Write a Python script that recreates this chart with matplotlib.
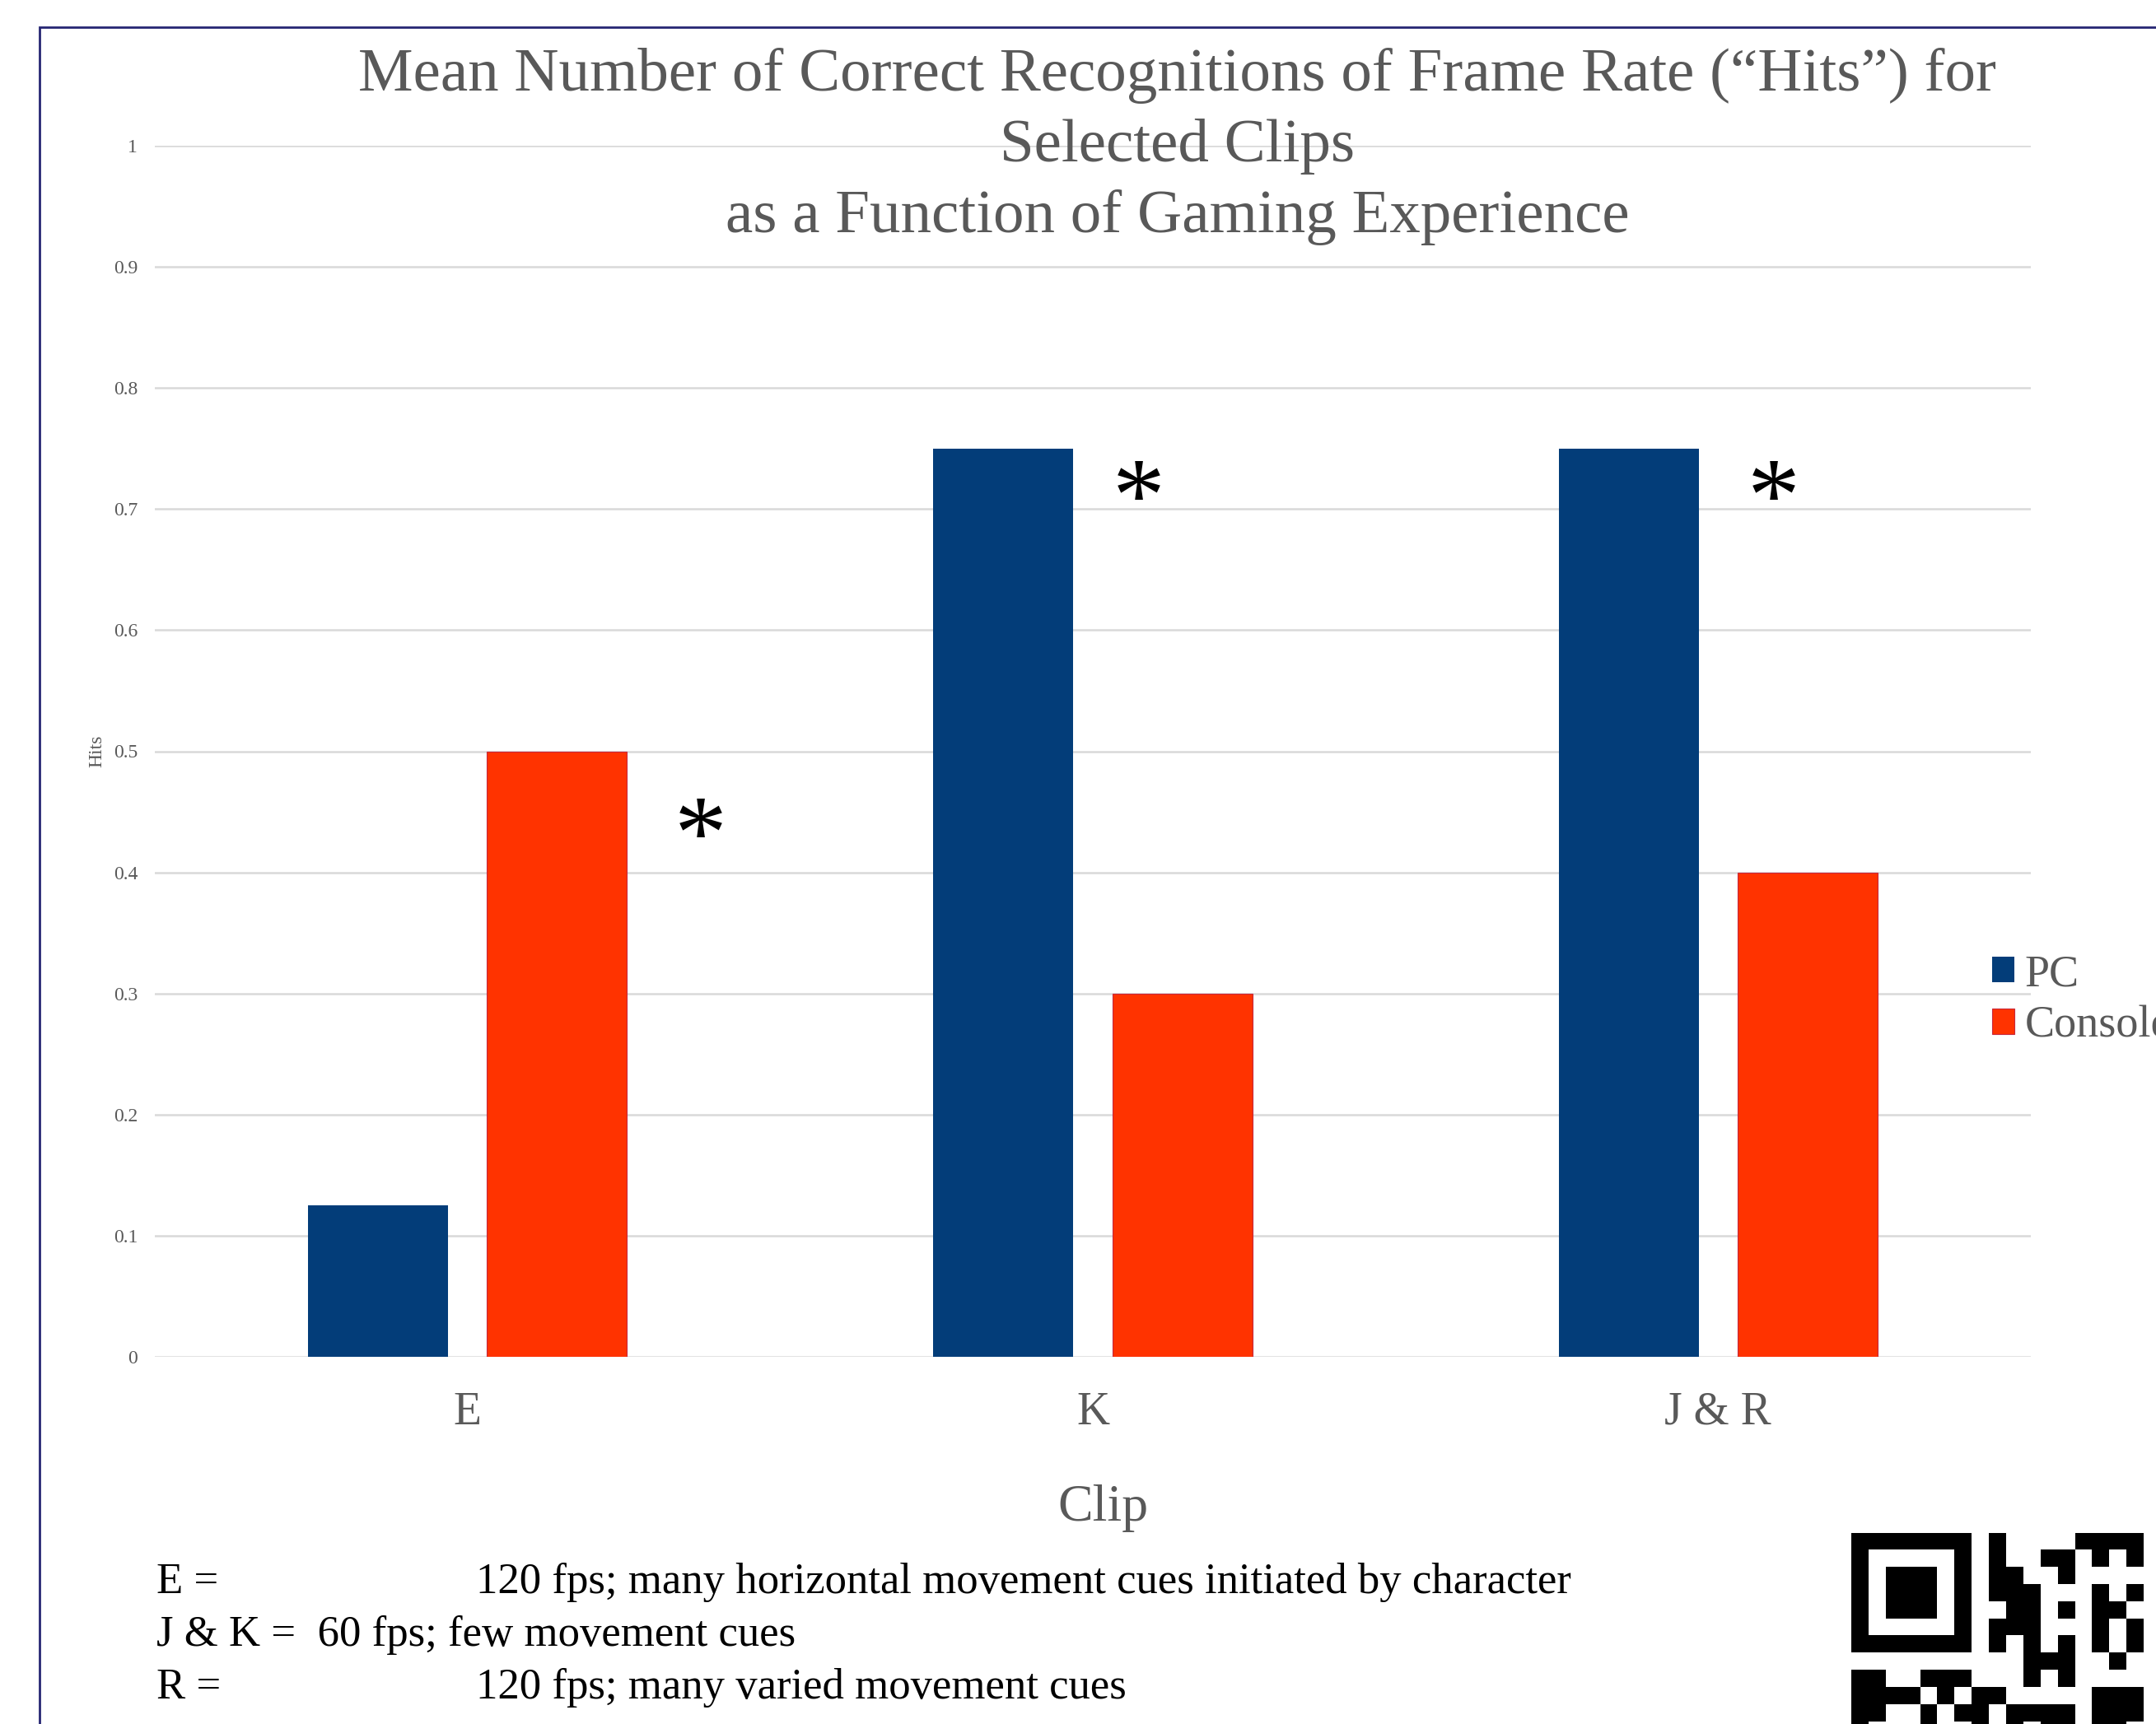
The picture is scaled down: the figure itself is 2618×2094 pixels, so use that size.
import matplotlib
matplotlib.use("Agg")
import matplotlib.pyplot as plt
from matplotlib.patches import Rectangle
import matplotlib.transforms as mtransforms
import numpy as np

# ---- data ----
categories = ["E", "K", "J & R"]
series_names = ["PC", "Console"]
pc_hits = [0.125, 0.75, 0.75]
console_hits = [0.5, 0.3, 0.4]
yticks = [0, 0.1, 0.2, 0.3, 0.4, 0.5, 0.6, 0.7, 0.8, 0.9, 1]
ytick_labels = ["0", "0.1", "0.2", "0.3", "0.4", "0.5", "0.6", "0.7", "0.8", "0.9", "1"]
# significance markers: (x position in category units, y value)
star_x = [0.373, 1.074, 2.089]
star_y = [0.443, 0.722, 0.722]
title_lines = ["Mean Number of Correct Recognitions of Frame Rate (\u201cHits\u201d) for",
               "Selected Clips",
               "as a Function of Gaming Experience"]
note_keys = ["E =", "J & K =  60 fps; few movement cues", "R ="]
note_vals = ["120 fps; many horizontal movement cues initiated by character", "",
             "120 fps; many varied movement cues"]
qr_modules = [
    [1,1,1,1,1,1,1,0,1,0,0,0,0,1,1,1,1,0],
    [1,0,0,0,0,0,1,0,1,0,0,1,1,0,1,0,1,0],
    [1,0,1,1,1,0,1,0,1,1,0,0,1,0,0,0,0,0],
    [1,0,1,1,1,0,1,0,1,1,1,0,0,0,1,0,1,0],
    [1,0,1,1,1,0,1,0,0,1,1,0,1,0,1,1,0,0],
    [1,0,0,0,0,0,1,0,1,1,1,0,0,0,1,0,1,0],
    [1,1,1,1,1,1,1,0,1,0,1,0,1,0,1,0,1,0],
    [0,0,0,0,0,0,0,0,0,0,1,1,1,0,0,1,0,0],
    [1,1,0,0,1,1,1,0,0,0,1,0,1,0,0,0,0,0],
    [1,1,1,1,0,1,0,1,1,0,0,0,0,0,1,1,1,0],
    [1,1,0,0,1,0,1,1,0,1,1,1,1,0,1,1,1,0],
    [1,0,0,0,1,0,0,1,0,1,0,1,1,0,1,1,0,0],
]

PC_COLOR = "#033D79"
CON_COLOR = "#FF3300"
CON_EDGE = "#C8283C"
GRAY_TXT = "#595959"

plt.rcParams["font.family"] = ["Liberation Serif", "DejaVu Serif"]

W, H = 2618, 2094
fig = plt.figure(figsize=(W / 100, H / 100), dpi=100)

def fx(px):
    return px / W

def fy(py):
    return 1 - py / H

# border
fig.patches.append(Rectangle((fx(48), fy(2200)), fx(2700), fy(33) - fy(2200),
                             transform=fig.transFigure, fill=False,
                             edgecolor="#262673", linewidth=2.0, zorder=0))

ax_l, ax_r, ax_t, ax_b = 188, 2466, 177, 1648
ax = fig.add_axes([fx(ax_l), fy(ax_b), fx(ax_r - ax_l), fy(ax_t) - fy(ax_b)])

x = np.arange(len(categories))
off = 0.143
bw = 0.224
b1 = ax.bar(x - off, pc_hits, bw, color=PC_COLOR, label=series_names[0], zorder=3)
b2 = ax.bar(x + off, console_hits, bw, color=CON_COLOR, edgecolor=CON_EDGE,
            linewidth=0.8, label=series_names[1], zorder=3)

ax.set_xlim(-0.5, len(categories) - 0.5)
ax.set_ylim(0, 1)
ax.set_yticks(yticks)
ax.set_yticklabels(ytick_labels, fontsize=17, color=GRAY_TXT)
ax.set_xticks(x)
ax.set_xticklabels(categories, fontsize=40, color=GRAY_TXT)
for t in ax.get_xticklabels():
    t.set_va("baseline")
ax.tick_params(axis="x", length=0, pad=59)
ax.tick_params(axis="y", length=0, pad=15)
ax.grid(axis="y", color="#D9D9D9", linewidth=1.8)
ax.set_axisbelow(True)
for s in ax.spines.values():
    s.set_visible(False)
ax.set_ylabel("Hits", fontsize=17, color=GRAY_TXT)
ax.yaxis.set_label_coords((128 - ax_l) / (ax_r - ax_l), 0.5)

star_tr = mtransforms.offset_copy(ax.transData, fig=fig, x=0, y=-10, units="points")
for sx, sy in zip(star_x, star_y):
    ax.text(sx, sy, "*", fontsize=92, color="black", ha="center", va="center_baseline",
            transform=star_tr, zorder=4)

# title
for i, line in enumerate(title_lines):
    fig.text(fx(1430), fy(110 + 86 * i), line, fontsize=54, color=GRAY_TXT,
             ha="center", va="baseline")

# x axis title
fig.text(fx(1339), fy(1847), "Clip", fontsize=46, color=GRAY_TXT, ha="center", va="baseline")

# legend
fig.legend(handles=[b1, b2], labels=series_names, loc="center left",
           bbox_to_anchor=(fx(2419), fy(1215)), frameon=False, fontsize=39,
           labelcolor=GRAY_TXT, handlelength=0.5, handleheight=0.5,
           handletextpad=0.23, labelspacing=0.22, borderpad=0, borderaxespad=0)

# notes
for i, (k, v) in enumerate(zip(note_keys, note_vals)):
    yb = fy(1935 + 64 * i)
    fig.text(fx(190), yb, k, fontsize=38, color="black", ha="left", va="baseline")
    if v:
        fig.text(fx(578), yb, v, fontsize=38, color="black", ha="left", va="baseline")

# QR code image
mod = 20.85
qr = np.array(qr_modules)
nr, nc = qr.shape
qax = fig.add_axes([fx(2248), fy(1862 + nr * mod), fx(nc * mod), fy(1862) - fy(1862 + nr * mod)])
qax.imshow(qr, cmap="gray_r", vmin=0, vmax=1, interpolation="nearest", aspect="auto")
qax.axis("off")

fig.savefig("out.png", dpi=100)
